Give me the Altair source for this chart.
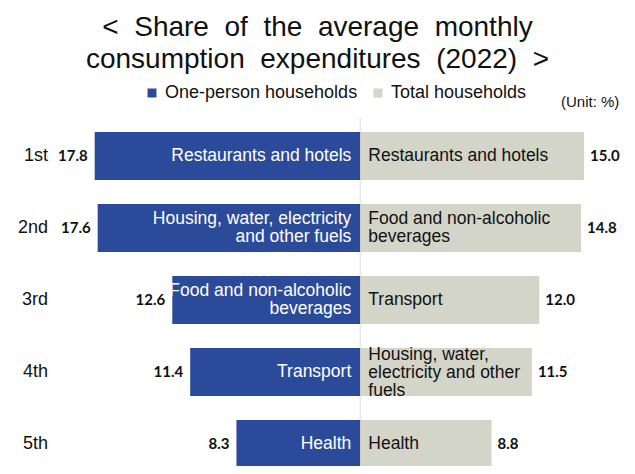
import altair as alt
import pandas as pd

ranks = ["1st", "2nd", "3rd", "4th", "5th"]
one_person_categories = [
    "Restaurants and hotels",
    "Housing, water, electricity\nand other fuels",
    "Food and non-alcoholic\nbeverages",
    "Transport",
    "Health",
]
one_person_values = [17.8, 17.6, 12.6, 11.4, 8.3]
total_categories = [
    "Restaurants and hotels",
    "Food and non-alcoholic\nbeverages",
    "Transport",
    "Housing, water,\nelectricity and other\nfuels",
    "Health",
]
total_values = [15.0, 14.8, 12.0, 11.5, 8.8]
groups = ["One-person households", "Total households"]
colors = ["#2c4a9a", "#d4d5c9"]

NB = "\u00a0"
title_lines = [
    "<" + NB + " Share" + NB + " of" + NB + " the" + NB + " average" + NB + " monthly",
    "consumption" + NB + " expenditures" + NB + " (2022)" + NB + " >",
]

rows = []
for r, c, v in zip(ranks, one_person_categories, one_person_values):
    rows.append({"rank": r, "group": groups[0], "category": c, "value": v, "signed": -v,
                 "label": f"{v:.1f}", "nlines": c.count("\n") + 1})
for r, c, v in zip(ranks, total_categories, total_values):
    rows.append({"rank": r, "group": groups[1], "category": c, "value": v, "signed": v,
                 "label": f"{v:.1f}", "nlines": c.count("\n") + 1})
df = pd.DataFrame(rows)

W, H = 619, 346
LH = 18
x_scale = alt.Scale(domain=[-23.61, 17.875], range=[0, W], nice=False, zero=False)
y_scale = alt.Scale(domain=ranks, range=[0, 360], paddingInner=1 / 3, paddingOuter=1 / 6)

X = alt.X("signed:Q", scale=x_scale, axis=None)
Y = alt.Y("rank:N", scale=y_scale, axis=None, sort=ranks)

base = alt.Chart(df)

center = alt.Chart(pd.DataFrame({"z": [0]})).mark_rule(color="#e4e6ea", strokeWidth=1.5).encode(
    x=alt.X("z:Q", scale=x_scale, axis=None),
    y=alt.value(-2),
    y2=alt.value(H + 10),
)

bars = base.mark_bar().encode(
    x=X,
    x2=alt.datum(0),
    y=Y,
    color=alt.Color(
        "group:N",
        scale=alt.Scale(domain=groups, range=colors),
        legend=alt.Legend(
            title=None,
            orient="none",
            direction="horizontal",
            legendX=135,
            legendY=-36,
            symbolType="square",
            symbolSize=81,
            symbolStrokeWidth=0,
            labelFont="Liberation Sans",
            labelFontSize=18,
            labelLimit=400,
            labelColor="#111111",
            labelOffset=4,
            columnPadding=11,
        ),
    ),
)

left_vals = base.transform_filter(alt.datum.group == groups[0]).mark_text(
    align="right", baseline="middle", dx=-7, font="Lato", fontWeight="bold", fontSize=15, color="#111111"
).encode(x=X, y=Y, text="label:N")

right_vals = base.transform_filter(alt.datum.group == groups[1]).mark_text(
    align="left", baseline="middle", dx=6, font="Lato", fontWeight="bold", fontSize=15, color="#111111"
).encode(x=X, y=Y, text="label:N")

cat_layers = []
for n in (1, 2, 3):
    dy = -(n - 1) * LH / 2 + (1 if n == 3 else 0)
    cat_layers.append(
        base.transform_filter((alt.datum.group == groups[0]) & (alt.datum.nlines == n)).mark_text(
            align="right", baseline="middle", dx=-9, dy=dy, font="Liberation Sans", fontSize=17.5,
            lineHeight=LH, lineBreak="\n", color="white"
        ).encode(x=alt.datum(0, scale=x_scale), y=Y, text="category:N")
    )
    cat_layers.append(
        base.transform_filter((alt.datum.group == groups[1]) & (alt.datum.nlines == n)).mark_text(
            align="left", baseline="middle", dx=8, dy=dy, font="Liberation Sans", fontSize=17.5,
            lineHeight=LH, lineBreak="\n", color="#111111"
        ).encode(x=alt.datum(0, scale=x_scale), y=Y, text="category:N")
    )

rank_labels = base.transform_filter(alt.datum.group == groups[0]).mark_text(
    align="right", baseline="middle", font="Liberation Sans", fontSize=18, color="#111111"
).encode(x=alt.value(40), y=Y, text="rank:N")

unit = alt.Chart(pd.DataFrame({"t": ["(Unit: %)"]})).mark_text(
    align="left", baseline="middle", font="Liberation Sans", fontSize=15, color="#111111"
).encode(x=alt.value(553), y=alt.value(-18), text="t:N")

chart = alt.layer(center, bars, left_vals, right_vals, *cat_layers, rank_labels, unit).properties(
    width=W,
    height=H,
    autosize=alt.AutoSizeParams(type="none"),
    padding={"left": 0, "right": 0, "top": 112, "bottom": 0},
    title=alt.TitleParams(
        text=title_lines,
        font="Liberation Sans",
        fontSize=28,
        fontWeight="normal",
        color="#111111",
        anchor="middle",
        frame="group",
        lineHeight=32,
        offset=10,
    ),
).configure_view(stroke=None)

chart.save("out.html", embed_options={"renderer": "svg", "actions": False})
